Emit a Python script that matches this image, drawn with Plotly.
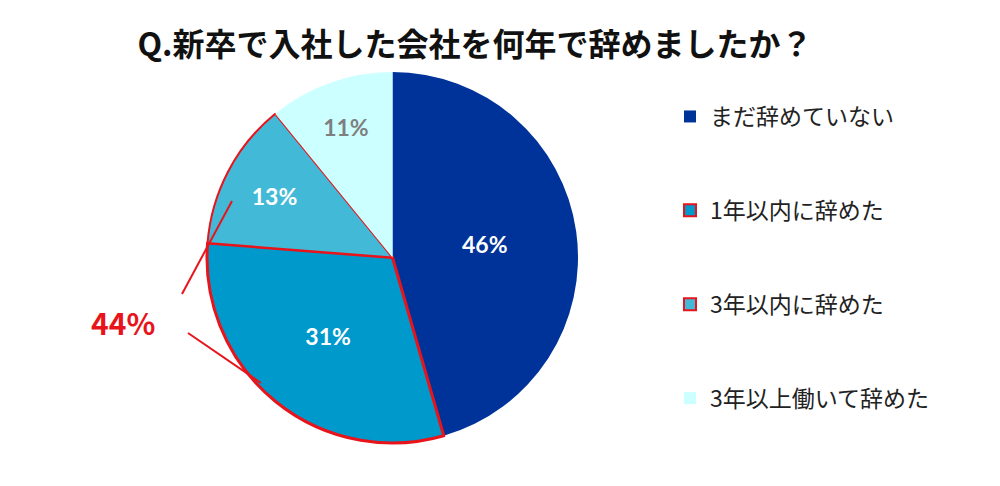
import plotly.graph_objects as go

# データ
labels = ["まだ辞めていない", "1年以内に辞めた", "3年以内に辞めた", "3年以上働いて辞めた"]
values = [46, 31, 13, 11]
colors = ["#003399", "#0099CC", "#42BAD7", "#CCFFFF"]
text_colors = ["white", "white", "white", "#7F7F7F"]
border_colors = ["#003399", "#E8141B", "#E8141B", "#CCFFFF"]
border_widths = [0, 3, 2, 0]
legend_labels = ["まだ辞めていない", "1年以内に辞めた", "3年以内に辞めた", "3年以上働いて辞めた"]
total_label = "44%"

JP = "Noto Sans CJK JP"

# ページ余白(8px)を差し引いて位置を換算
def px(x):
    return (x - 8) / 1000

def py(y):
    return 1 - (y - 8) / 486

fig = go.Figure()

fig.add_trace(go.Pie(
    labels=labels,
    values=values,
    sort=False,
    direction="clockwise",
    rotation=0,
    marker=dict(colors=colors, line=dict(color=border_colors, width=border_widths)),
    texttemplate="%{value}%",
    textposition="inside",
    insidetextorientation="horizontal",
    textfont=dict(family="Lato", size=23, color=text_colors, weight="bold"),
    domain=dict(x=[px(207), px(578)], y=[py(443), py(72)]),
    showlegend=False,
    hoverinfo="label+percent",
))

# 凡例用のダミー
for i, name in enumerate(legend_labels):
    fig.add_trace(go.Scatter(
        x=[None], y=[None], mode="markers", name=name,
        legendgroup=f"g{i}",
        marker=dict(symbol="square", size=11, color=colors[i],
                    line=dict(color=border_colors[i], width=2.5 if border_widths[i] else 0)),
    ))

# 44% の括弧線
for x0, y0, x1, y1 in [(182, 294, 232, 201), (188, 333, 261, 383)]:
    fig.add_shape(type="line", xref="paper", yref="paper",
                  x0=px(x0), y0=py(y0), x1=px(x1), y1=py(y1),
                  line=dict(color="#E8141B", width=2))

fig.add_annotation(text="<b>" + total_label + "</b>", xref="paper", yref="paper",
                   x=px(123), y=py(322), xanchor="center", yanchor="middle",
                   showarrow=False,
                   font=dict(family=JP, size=30, color="#E8141B"))

fig.update_layout(
    width=1000, height=486,
    margin=dict(l=0, r=0, t=0, b=0),
    paper_bgcolor="white", plot_bgcolor="white",
    title=dict(text="<b>Q.新卒で入社した会社を何年で辞めましたか？</b>",
               x=px(475), xanchor="center", y=py(45), yanchor="middle",
               font=dict(family=JP, size=32, color="#111111")),
    xaxis=dict(visible=False), yaxis=dict(visible=False),
    legend=dict(x=px(670), xanchor="left", y=py(95), yanchor="top",
                font=dict(family=JP, size=23, color="#222222"),
                tracegroupgap=61, itemsizing="constant", itemwidth=30),
)

fig.write_html("out.html")
